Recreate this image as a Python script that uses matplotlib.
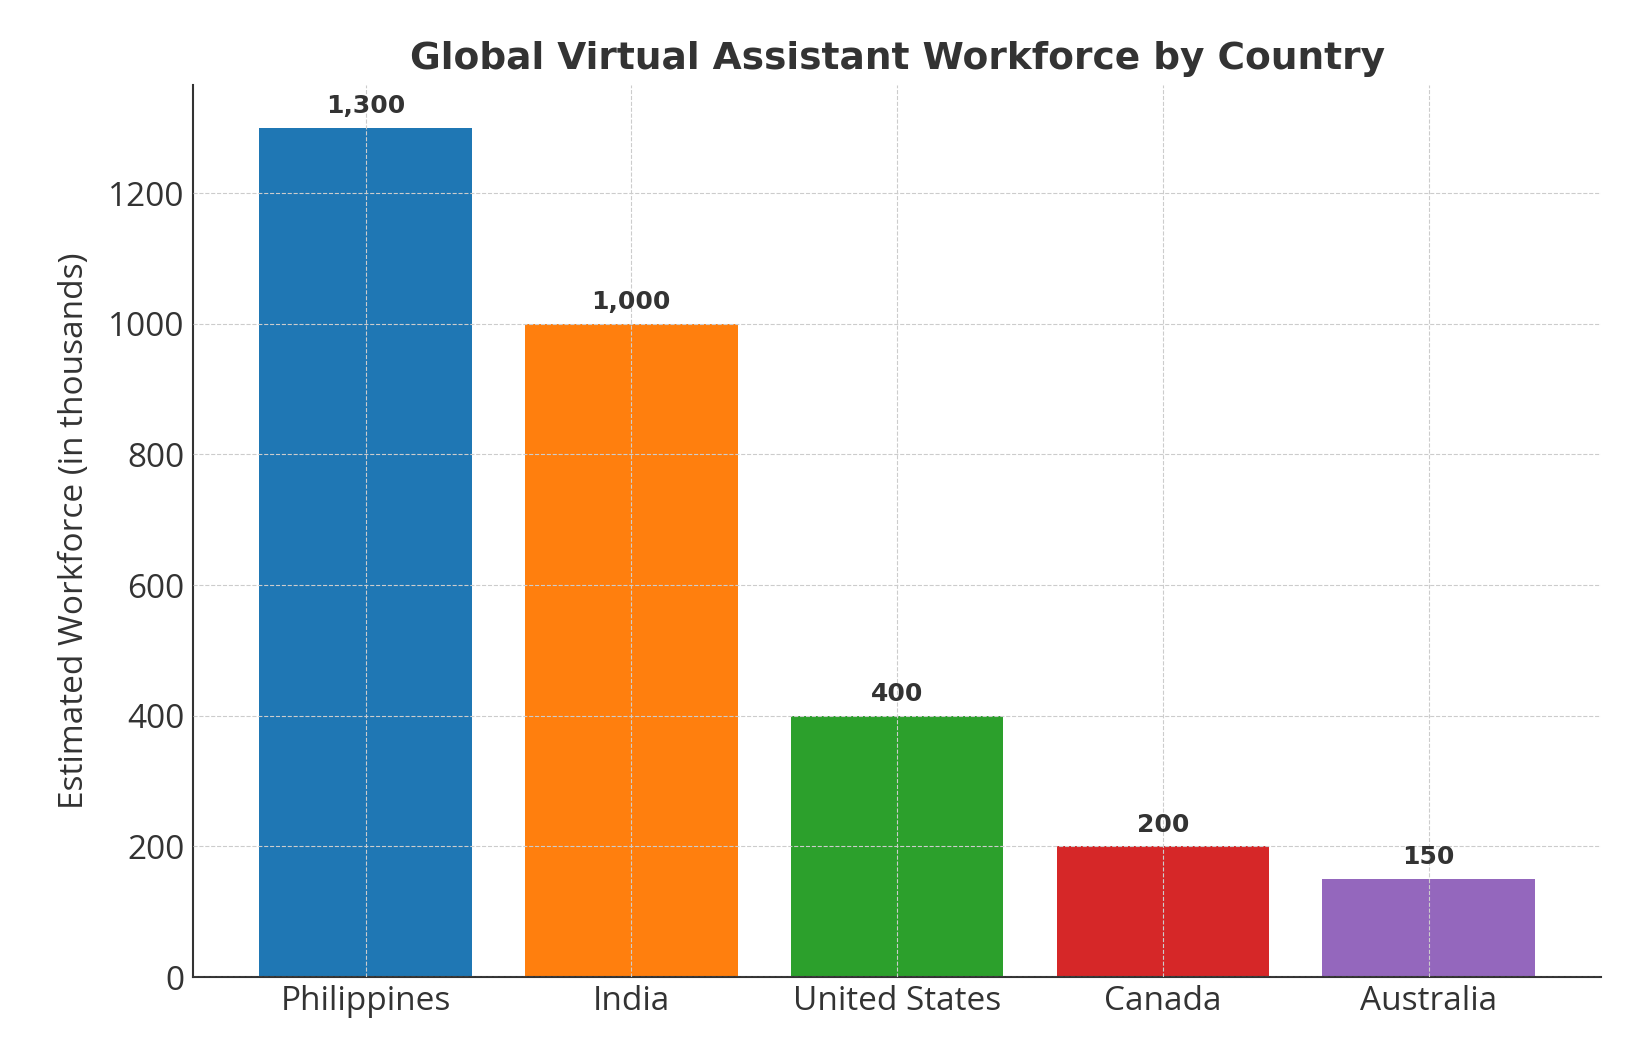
import matplotlib
matplotlib.use("Agg")
import matplotlib.pyplot as plt

countries = ["Philippines", "India", "United States", "Canada", "Australia"]
values = [1300, 1000, 400, 200, 150]
colors = ["#1f77b4", "#ff7f0e", "#2ca02c", "#d62728", "#9467bd"]
yticks = [0, 200, 400, 600, 800, 1000, 1200]

fig = plt.figure(figsize=(16.34, 10.54), dpi=100)
ax = fig.add_axes([0.118, 0.073, 0.862, 0.846])
ax.bar(countries, values, color=colors, width=0.8, zorder=2)
ax.set_ylim(0, 1365)
ax.set_xlim(-0.65, 4.65)
ax.set_yticks(yticks)
ax.grid(True, linestyle="--", color="#cccccc", linewidth=0.8, zorder=0)
ax.set_axisbelow(False)
for s in ["top", "right"]:
    ax.spines[s].set_visible(False)
for s in ["left", "bottom"]:
    ax.spines[s].set_color("#333333")
    ax.spines[s].set_linewidth(1.5)
ax.tick_params(labelsize=24, colors="#333333", length=0, pad=6)
for lbl in ax.get_xticklabels() + ax.get_yticklabels():
    lbl.set_fontfamily("Open Sans")
ax.set_ylabel("Estimated Workforce (in thousands)", fontsize=24, color="#333333",
              fontfamily="Open Sans", labelpad=12)
ax.set_title("Global Virtual Assistant Workforce by Country", fontsize=27,
             fontweight="bold", color="#333333", pad=12)
for i, v in enumerate(values):
    ax.text(i, v + 15, f"{v:,}", ha="center", va="bottom", fontsize=18,
            fontweight="bold", color="#333333")
fig.savefig("out.png", dpi=100)
